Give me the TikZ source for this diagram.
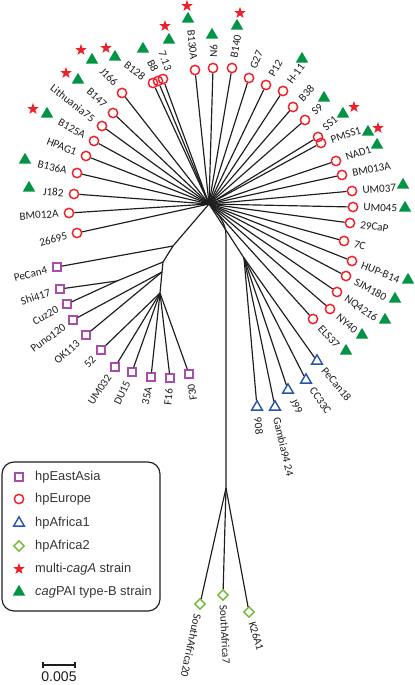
\documentclass[tikz,border=0pt]{standalone}
\usepackage{fontspec}
\setmainfont{Liberation Sans}
\newfontfamily\strainfont{Carlito}
\usetikzlibrary{shapes.geometric}
\definecolor{eured}{RGB}{236,32,39}
\definecolor{asiapurple}{RGB}{168,78,168}
\definecolor{afrblue}{RGB}{38,84,168}
\definecolor{afrgreen}{RGB}{112,186,50}
\definecolor{typeBgreen}{RGB}{0,148,68}
\definecolor{ink}{RGB}{30,30,30}
\tikzset{
  branch/.style={draw=ink,line width=1pt},
  europe/.style={circle,draw=eured,line width=1.25pt,minimum size=2.8mm,inner sep=0pt},
  eastasia/.style={rectangle,draw=asiapurple,line width=1.2pt,minimum size=2.4mm,inner sep=0pt},
  africaone/.style={regular polygon,regular polygon sides=3,draw=afrblue,line width=1.2pt,
    minimum size=3.7mm,inner sep=0pt},
  africatwo/.style={diamond,draw=afrgreen,line width=1.2pt,minimum size=3.2mm,inner sep=0pt},
  multicag/.style={star,star points=5,star point ratio=2.5,fill=eured,minimum size=3.6mm,inner sep=0pt},
  typeB/.style={regular polygon,regular polygon sides=3,fill=typeBgreen,minimum size=4.3mm,inner sep=0pt},
  strain/.style={font=\strainfont\fontsize{9.5}{11}\selectfont,text=ink,inner sep=0pt},
  legtext/.style={font=\fontsize{11}{13}\selectfont,text=ink!90,anchor=west,inner sep=0pt},
  legbox/.style={draw=ink,line width=1pt,rounded corners=3.6mm},
}
% marker, label name, text, rotation, direction of the offset
\newcommand{\strainlabel}[5]{%
  \pgfmathparse{cos((#5)-(#4))}%
  \ifdim\pgfmathresult pt>0pt\def\labanchor{west}\else\def\labanchor{east}\fi
  \node[strain,rotate=#4,anchor=\labanchor] (#2) at ([shift={(#5:3.1mm)}]#1) {#3};}

\begin{document}
\begin{tikzpicture}[x=0.03cm,y=-0.03cm]
  \useasboundingbox (0,0) rectangle (414,685);
  \coordinate (hub) at (209,204);
  \coordinate (e1) at (173,246);
  \coordinate (e2) at (163,262);
  \coordinate (e5) at (162,272);
  \coordinate (e3) at (160,293);
  \coordinate (e4) at (117,281);
  \coordinate (af) at (244,258);
  \coordinate (a2top) at (226,236);
  \coordinate (a2) at (226,488);

  \draw[branch] (hub) -- (e1) -- (e2) -- (e5) -- (e3);
  \draw[branch] (e2) -- (e4);
  \draw[branch] (hub) -- (af);
  \draw[branch] (hub) to[out=-50,in=90] (a2top) -- (a2);

  % hpEurope
  \foreach \x/\y/\t/\r/\d [count=\i] in {77/233/26695/15/195,69/213/BM012A/4/184,74/194/J182/-5/175,
    77/173/B136A/-13/167,86/156/HPAG1/-21/159,94/141/B125A/-29/151,102/126/Lithuania75/-38/142,
    113/113/B147/-43/137,122/93/J166/-46/125,153/83/B128/-38/150,158/81/B8/-63/103,163/79/7.13/-70/57,
    195/70/B130A/-84/96,213/68/N6/88/88,232/68/B140/80/80,249/78/G27/68/68,266/85/P12/60/60,
    283/91/H-11/53/53,293/107/B38/46/46,305/120/S9/40/40,318/137/SS1/40/55,321/143/PMSS1/18/18,
    336/161/NAD1/19/19,342/175/BM013A/11/11,352/191/UM037/4/4,353/207/UM045/-2/-2,350/223/29CaP/-9/-9,
    344/241/7C/-15/-15,352/261/HUP-B14/-22/-22,346/276/SJM180/-29/-29,337/292/NQ4216/-35/-35,
    330/309/NY40/-41/-41,313/319/ELS37/-48/-48}{
    \node[europe] (eu\i) at (\x,\y) {};
    \draw[branch] (hub) -- (eu\i);
    \strainlabel{eu\i}{eul\i}{\t}{\r}{\d}
  }

  % hpEastAsia
  \foreach \x/\y/\t/\r/\d/\p [count=\i] in {57/267/PeCan4/15/195/e1,60/289/Shi417/18/198/e4,
    67/304/Cuz20/28/208/e4,73/320/Puno120/36/216/e5,86/335/OK113/42/222/e5,101/350/52/47/227/e3,
    115/367/UM032/56/236/e3,132/372/DU15/65/245/e3,151/377/35A/78/258/e3,170/378/F16/85/265/e3,
    189/374/F30/100/280/e3}{
    \node[eastasia] (ea\i) at (\x,\y) {};
    \draw[branch] (\p) -- (ea\i);
    \strainlabel{ea\i}{eal\i}{\t}{\r}{\d}
  }

  % hpAfrica1
  \foreach \x/\y/\t/\r/\d [count=\i] in {317/361/PeCan18/-50/-50,306/380/CC33C/-55/-55,
    288/390/J99/-62/-62,275/407/Gambia94 24/-77/-80,257/407/908/-84/-86}{
    \node[africaone] (ao\i) at (\x,\y) {};
    \draw[branch] (af) -- (ao\i);
    \strainlabel{ao\i}{aol\i}{\t}{\r}{\d}
  }

  % hpAfrica2
  \foreach \x/\y/\t/\r/\d [count=\i] in {200/604/SouthAfrica20/-102/-102,223/595/SouthAfrica7/-87/-87,
    249/612/K26A1/-73/-73}{
    \node[africatwo] (at\i) at (\x,\y) {};
    \draw[branch] (a2) -- (at\i);
    \strainlabel{at\i}{atl\i}{\t}{\r}{\d}
  }

  \foreach \x/\y [count=\i] in {29/188,25/160,47/114,78/80,92/60,115/57,143/49,169/40,188/19,212/35,
    237/26,302/59,324/98,343/114,368/132,377/145,403/185,405/208,408/280,395/299,385/320,362/335,346/351}
    \node[typeB] (tb\i) at (\x,\y) {};
  \foreach \x/\y [count=\i] in {33/109,66/73,81/50,106/48,165/26,187/6,240/13,354/107,378/128}
    \node[multicag] (st\i) at (\x,\y) {};

  % legend
  \draw[legbox] (2,462) rectangle (160,611);
  \foreach \s/\t/\y [count=\i] in {eastasia/hpEastAsia/477,europe/hpEurope/499,africaone/hpAfrica1/523,
    africatwo/hpAfrica2/546,multicag/multi-\emph{cagA} strain/569,typeB/\emph{cag}PAI type-B strain/592}{
    \node[\s] (key\i) at (19,\y) {};
    \node[legtext] (keytext\i) at (35,\y) {\t};
  }

  % scale bar
  \coordinate (sb1) at (43,665);
  \coordinate (sb2) at (75,665);
  \draw[branch] (sb1) -- (sb2) (sb1) ++(0,-3) -- ++(0,6) (sb2) ++(0,-3) -- ++(0,6);
  \node[font=\fontsize{12}{14}\selectfont,text=ink,anchor=north,inner sep=0pt] (sbtext) at (59,671) {0.005};
\end{tikzpicture}
\end{document}
